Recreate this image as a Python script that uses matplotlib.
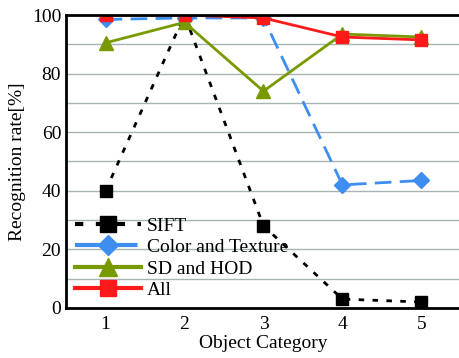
import matplotlib
matplotlib.use('Agg')
import matplotlib.pyplot as plt

categories = [1, 2, 3, 4, 5]
sift = [40, 100, 28, 3, 2]
color_texture = [98.5, 99, 99, 42, 43.5]
sd_hod = [90.5, 97.5, 74, 93.5, 92.5]
all_feat = [100, 100, 99, 92.5, 91.5]

plt.rcParams['font.family'] = 'Liberation Serif'

fig = plt.figure(figsize=(4.59, 3.58), dpi=100)
ax = fig.add_axes([0.144, 0.14, 0.86, 0.818])

ax.plot(categories, sift, color='black', linestyle=(0, (2, 3)), linewidth=2,
        marker='s', markersize=9, label='SIFT')
ax.plot(categories, color_texture, color='#3d8ef0', linestyle=(0, (6, 3)), linewidth=2,
        marker='D', markersize=8, label='Color and Texture')
ax.plot(categories, sd_hod, color='#789a00', linewidth=2,
        marker='^', markersize=10, label='SD and HOD')
ax.plot(categories, all_feat, color='#ff1a1a', linewidth=2,
        marker='s', markersize=9, label='All')

ax.set_xlim(0.5, 5.5)
ax.set_ylim(0, 100)
ax.set_xticks(categories)
ax.set_yticks([0, 20, 40, 60, 80, 100])
ax.set_yticks(range(0, 101, 10), minor=True)
ax.grid(axis='y', which='both', color='#a8b4b4', linewidth=1)
ax.set_axisbelow(True)
ax.tick_params(which='both', length=0, labelsize=14)
ax.tick_params(axis='x', pad=6)
for s in ['left', 'bottom', 'top']:
    ax.spines[s].set_linewidth(2)
ax.spines['right'].set_visible(False)

ax.set_xlabel('Object Category', fontsize=14, labelpad=1)
ax.set_ylabel('Recognition rate[%]', fontsize=14, labelpad=4)

leg = ax.legend(loc='lower left', frameon=False, fontsize=14, handlelength=3.4,
                borderaxespad=0.05, labelspacing=0.2, handletextpad=0.3,
                markerscale=1.3, bbox_to_anchor=(0.0, 0.0))
for line in leg.get_lines():
    line.set_linewidth(3)

fig.savefig('out.png', dpi=100)
